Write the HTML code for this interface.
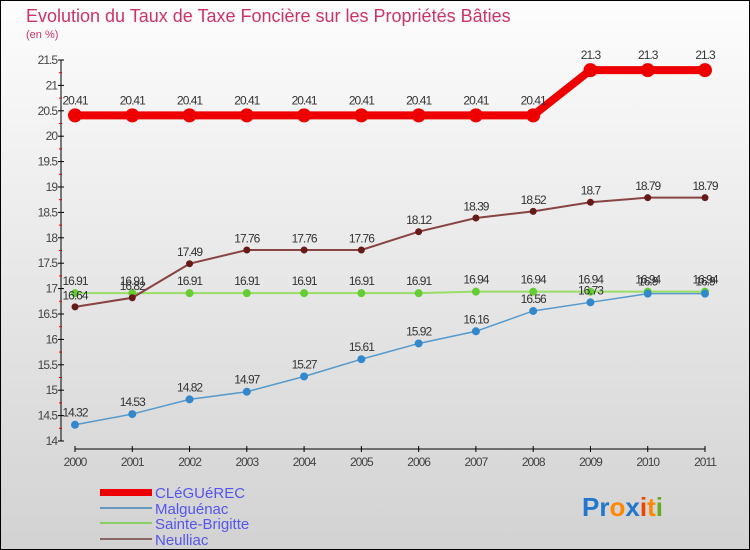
<!DOCTYPE html>
<html><head><meta charset="utf-8"><style>
body{margin:0;width:750px;height:550px;overflow:hidden;font-family:"Liberation Sans",sans-serif}
svg{display:block}
</style></head><body>
<svg id="chart" width="750" height="550" xmlns="http://www.w3.org/2000/svg">
<defs><linearGradient id="bg" x1="0" y1="0" x2="0" y2="1"><stop offset="0" stop-color="#fdfdfd"/><stop offset="1" stop-color="#d2d2d2"/></linearGradient></defs>
<rect x="0" y="0" width="750" height="550" fill="url(#bg)" stroke="#000" stroke-width="2"/>
<text x="26" y="22" font-size="18" fill="#cc3366">Evolution du Taux de Taxe Foncière sur les Propriétés Bâties</text>
<text x="26" y="38" font-size="11" fill="#cc3366">(en %)</text>
<g id="axes"></g>
<g id="series"></g>
<g font-size="15" fill="#5555ee">
<rect x="100" y="489" width="52" height="7" fill="#ee0000"/>
<text x="155" y="498">CLéGUéREC</text>
<rect x="100" y="507" width="52" height="2" fill="#6699bb"/>
<text x="155" y="514">Malguénac</text>
<rect x="100" y="522" width="52" height="2" fill="#88cc66"/>
<text x="155" y="529">Sainte-Brigitte</text>
<rect x="100" y="538" width="52" height="2" fill="#886666"/>
<text x="155" y="545">Neulliac</text>
</g>
<g font-size="26" font-weight="bold">
<text x="582" y="516"><tspan fill="#2277cc">Pr</tspan><tspan fill="#ff8800">o</tspan><tspan fill="#2277cc">x</tspan><tspan fill="#ee4400">i</tspan><tspan fill="#ff8800">t</tspan><tspan fill="#66aa22">i</tspan></text>
</g>
</svg>
<script>
const years=[2000,2001,2002,2003,2004,2005,2006,2007,2008,2009,2010,2011];
const cleguerec=[20.41,20.41,20.41,20.41,20.41,20.41,20.41,20.41,20.41,21.3,21.3,21.3];
const malguenac=[14.32,14.53,14.82,14.97,15.27,15.61,15.92,16.16,16.56,16.73,16.9,16.9];
const sainteBrigitte=[16.91,16.91,16.91,16.91,16.91,16.91,16.91,16.94,16.94,16.94,16.94,16.94];
const neulliac=[16.64,16.82,17.49,17.76,17.76,17.76,18.12,18.39,18.52,18.7,18.79,18.79];
const yTicks=[14,14.5,15,15.5,16,16.5,17,17.5,18,18.5,19,19.5,20,20.5,21,21.5];
const NS="http://www.w3.org/2000/svg";
const x=i=>75+i*(630/(years.length-1));
const y=v=>441-(v-14)*50.8;
function mk(t,a,p,txt){const e=document.createElementNS(NS,t);for(const k in a)e.setAttribute(k,a[k]);if(txt!==undefined)e.textContent=txt;p.appendChild(e);return e;}
const ax=document.getElementById('axes');
let e=mk('line',{x1:61,y1:y(21.5),x2:61,y2:y(14),stroke:'#000'},ax);


yTicks.forEach((v,k)=>{
 mk('line',{x1:58,x2:64,y1:y(v),y2:y(v),stroke:'#000'},ax);
 if(k<yTicks.length-1) mk('line',{x1:59,x2:62,y1:y(v+0.25),y2:y(v+0.25),stroke:'#e00'},ax);
 const t=mk('text',{x:57,y:y(v)+4,'text-anchor':'end','font-size':12,fill:'#444','letter-spacing':'-1'},ax,String(v));
 
 
});
e=mk('line',{x1:75,y1:449,x2:705,y2:449,stroke:'#000'},ax);


years.forEach((yr,i)=>{
 mk('line',{x1:x(i),x2:x(i),y1:446,y2:452,stroke:'#000'},ax);
 const t=mk('text',{x:x(i),y:466,'text-anchor':'middle','font-size':12,fill:'#444','letter-spacing':'-1'},ax,String(yr));
 
 
});
const sg=document.getElementById('series');
const defs=[
 {d:sainteBrigitte,c:'#99dd66',dot:'#66cc33',w:2,r:4,n:'sainte-brigitte'},
 {d:neulliac,c:'#884444',dot:'#661a1a',w:2,r:3.5,n:'neulliac'},
 {d:malguenac,c:'#5599cc',dot:'#3388cc',w:1.5,r:4,n:'malguenac'},
 {d:cleguerec,c:'#ee0000',dot:'#ee0000',w:8,r:7,n:'cleguerec'}
];
defs.forEach(s=>{
 const g=mk('g',{},sg);
 
 
 const p=mk('polyline',{points:s.d.map((v,i)=>x(i)+','+y(v)).join(' '),fill:'none',stroke:s.c,'stroke-width':s.w},g);
 
 
 s.d.forEach((v,i)=>{
  const c=mk('circle',{cx:x(i),cy:y(v),r:s.r,fill:s.dot},g);
  
  
  const t=mk('text',{x:x(i),y:y(v)-(s.r+4),'text-anchor':'middle','font-size':12,fill:'#333','letter-spacing':'-1'},g,String(v));
  
  
 });
});
</script>
</body></html>
